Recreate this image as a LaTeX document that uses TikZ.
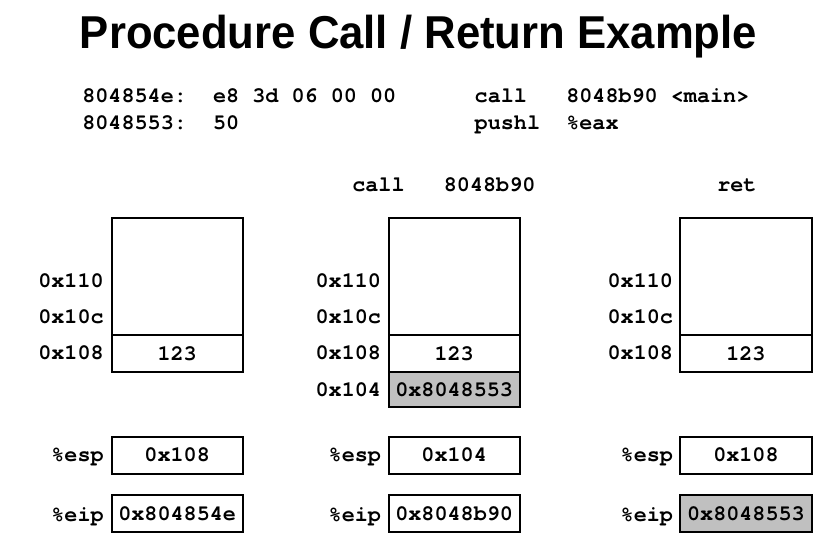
\documentclass[tikz,border=0pt]{standalone}
\usepackage{fontspec}
\newfontfamily\courf{TeX Gyre Cursor}
\newfontfamily\titlef{Liberation Sans}
\definecolor{shade}{HTML}{C0C0C0}
\begin{document}
\begin{tikzpicture}[x=1pt,y=-1pt,
  mono/.style={font=\courf\bfseries\fontsize{21.8}{24}\selectfont, inner sep=0pt, outer sep=0pt},
  txt/.style={mono, anchor=base west},
  lbl/.style={mono, anchor=base east},
  cell/.style={mono, draw, line width=2pt, anchor=north west, minimum width=131.3pt},
  grey/.style={fill=shade}]
\useasboundingbox (0,0) rectangle (833,546);
% title
\node[inner sep=0pt, anchor=base] (title) at (418.5,48.3)
  {\resizebox{677pt}{33.4pt}{\titlef\bfseries Procedure Call / Return Example}};
% code lines
\node[txt] (c1) at (82.3,102.7) {804854e:~~e8~3d~06~00~00~~~~~~call~~~8048b90~<main>};
\node[txt] (c2) at (82.3,129.3) {8048553:~~50~~~~~~~~~~~~~~~~~~pushl~~\%eax};
% ---------------- left
\node[cell, minimum height=116.7pt] (Lf) at (111.5,218.3) {};
\node[cell, minimum height=36.5pt] (L8) at (111.5,335) {123};
\node[cell, minimum height=37pt] (Lesp) at (111.5,436.5) {0x108};
\node[cell, minimum height=36.7pt] (Leip) at (111.5,495) {0x804854e};
\node[lbl] (La) at (103.7,287) {0x110};
\node[lbl] (Lb) at (103.7,323) {0x10c};
\node[lbl] (Lc) at (103.7,359) {0x108};
\node[lbl] (Ld) at (103.7,461) {\%esp};
\node[lbl] (Le) at (103.7,521) {\%eip};
% ---------------- middle
\node[txt] (Mt) at (352.3,191.7) {call~~~8048b90};
\node[cell, minimum height=116.7pt] (Mf) at (388.5,218.3) {};
\node[cell, minimum height=36.5pt] (M8) at (388.5,335) {123};
\node[cell, grey, minimum height=35.8pt] (M4) at (388.5,371.5) {0x8048553};
\node[cell, minimum height=37pt] (Mesp) at (388.5,436.5) {0x104};
\node[cell, minimum height=36.7pt] (Meip) at (388.5,495) {0x8048b90};
\node[lbl] (Ma) at (381,287) {0x110};
\node[lbl] (Mb) at (381,323) {0x10c};
\node[lbl] (Mc) at (381,359) {0x108};
\node[lbl] (Md) at (381,396) {0x104};
\node[lbl] (Me) at (381,461) {\%esp};
\node[lbl] (Mg) at (381,521) {\%eip};
% ---------------- right
\node[txt] (Rt) at (717.3,191.7) {ret};
\node[cell, minimum height=116.7pt] (Rf) at (680.3,218.3) {};
\node[cell, minimum height=36.5pt] (R8) at (680.3,335) {123};
\node[cell, minimum height=37pt] (Resp) at (680.3,436.5) {0x108};
\node[cell, grey, minimum height=36.7pt] (Reip) at (680.3,495) {0x8048553};
\node[lbl] (Ra) at (673,287) {0x110};
\node[lbl] (Rb) at (673,323) {0x10c};
\node[lbl] (Rc) at (673,359) {0x108};
\node[lbl] (Rd) at (673,461) {\%esp};
\node[lbl] (Re) at (673,521) {\%eip};
\end{tikzpicture}
\end{document}
